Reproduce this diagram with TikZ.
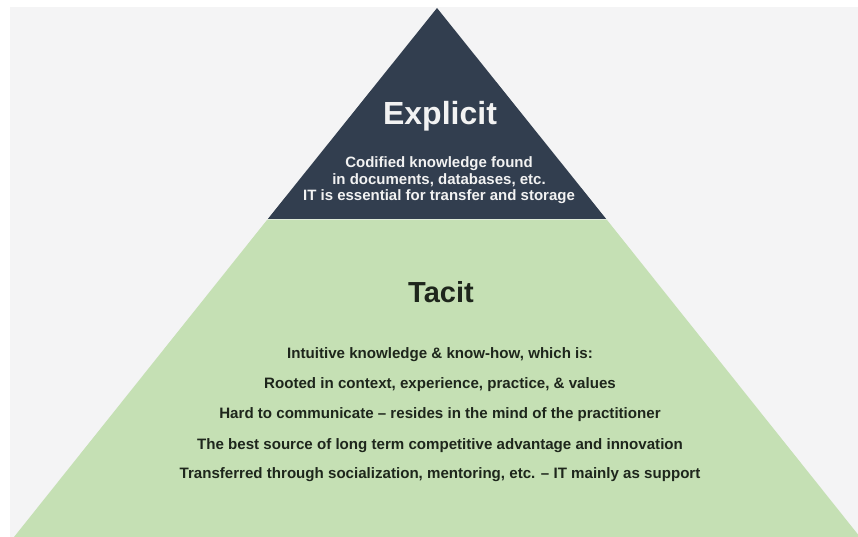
\documentclass[tikz,border=0pt]{standalone}
\usepackage{fontspec}
\setmainfont{Liberation Sans}
\usepackage{tikz}
\usetikzlibrary{positioning}

\definecolor{slate}{HTML}{323E4F}
\definecolor{sage}{HTML}{C5E0B4}
\definecolor{paper}{HTML}{F4F4F5}
\definecolor{exwhite}{HTML}{F2F2F2}
\definecolor{tadark}{HTML}{1E261C}

\begin{document}
\begin{tikzpicture}[x=1pt, y=-1pt, inner sep=0pt]
    \tikzstyle{hd}=[font=\fontsize{32}{32}\selectfont\bfseries, anchor=base]
    \tikzstyle{ex}=[font=\fontsize{15}{16}\selectfont\bfseries, text=exwhite, text height=11pt, text depth=3pt]
    \tikzstyle{ta}=[font=\fontsize{15.1}{16}\selectfont\bfseries, text=tadark, text height=11pt, text depth=3pt]

    \useasboundingbox (0,0) rectangle (858,537);
    \fill[white] (0,0) rectangle (858,537);
    \fill[paper] (10,7) rectangle (858,537);

    % pyramid
    \fill[sage] (267,220) -- (607,220) -- (860,537) -- (14,537) -- cycle;
    \fill[slate] (437,8) -- (607,220) -- (267,220) -- cycle;
    \draw[exwhite!60!sage, line width=1pt] (267,220) -- (607,220);

    % explicit
    \node[hd, text=exwhite] (Ex) at (440,125) {Explicit};
    \node[ex] (Ex1) at (439,164) {Codified knowledge found};
    \node[ex] (Ex2) [below=2pt of Ex1] {in documents, databases, etc.};
    \node[ex] (Ex3) [below=2pt of Ex2] {IT is essential for transfer and storage};

    % tacit
    \node[hd, text=tadark, font=\fontsize{29}{29}\selectfont\bfseries] (Ta) at (441,302) {Tacit};
    \node[ta] (Ta1) at (440,354) {Intuitive knowledge \& know-how, which is:};
    \node[ta] (Ta2) [below=16pt of Ta1] {Rooted in context, experience, practice, \& values};
    \node[ta] (Ta3) [below=16pt of Ta2] {Hard to communicate -- resides in the mind of the practitioner};
    \node[ta] (Ta4) [below=16pt of Ta3] {The best source of long term competitive advantage and innovation};
    \node[ta] (Ta5) [below=15pt of Ta4] {Transferred through socialization, mentoring, etc. -- IT mainly as support};
\end{tikzpicture}
\end{document}
